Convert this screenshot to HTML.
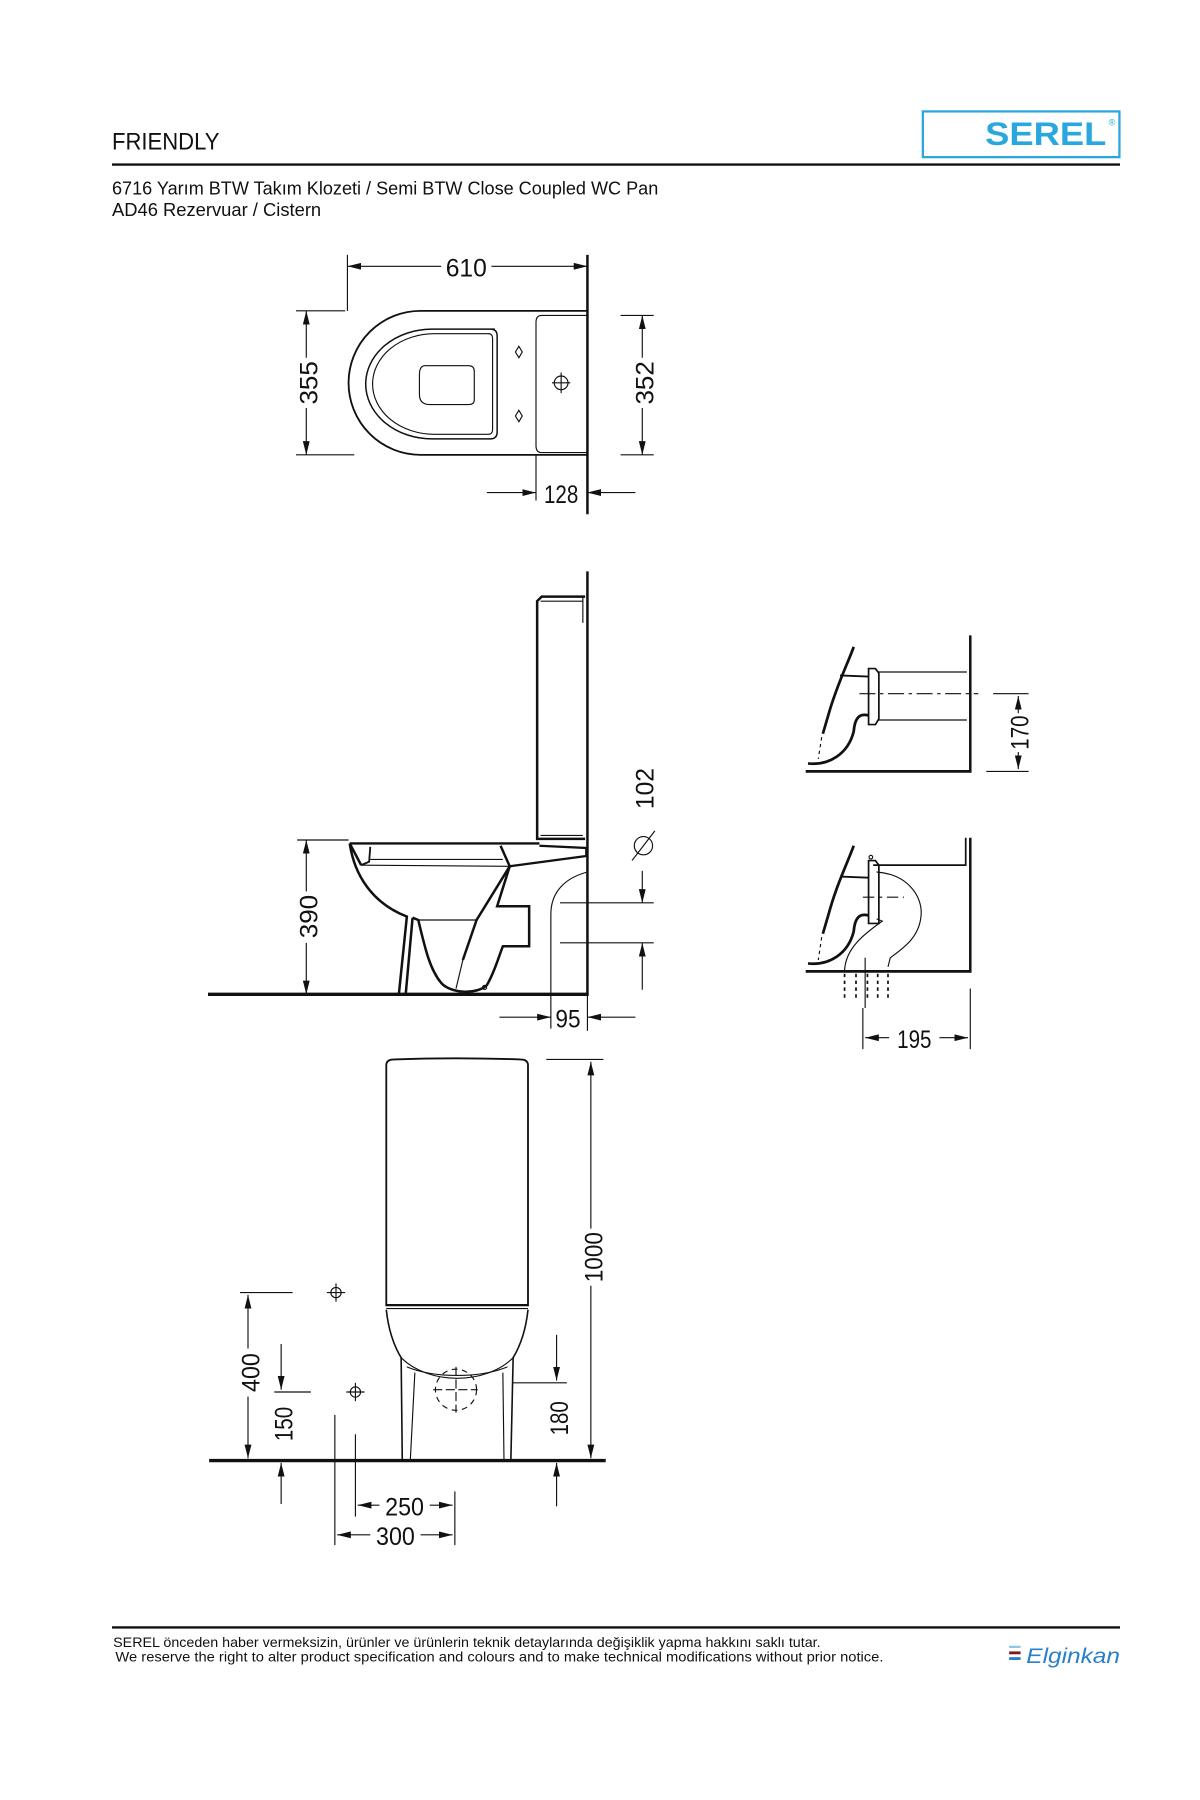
<!DOCTYPE html>
<html><head><meta charset="utf-8"><style>
html,body{margin:0;padding:0;background:#fff;}
svg{display:block;}
.t{font-family:"Liberation Sans",sans-serif;}
.d{font-family:"Liberation Sans",sans-serif;font-size:22px;fill:#111;}
</style></head><body>
<svg width="1200" height="1800" viewBox="0 0 1050 1575" xmlns="http://www.w3.org/2000/svg">
<defs>
<marker id="a" viewBox="0 0 12 6" refX="12" refY="3" markerWidth="12" markerHeight="6" markerUnits="userSpaceOnUse" orient="auto"><path d="M0,0 L12,3 L0,6 z" fill="#111"/></marker>
</defs>
<g fill="none" stroke="#111" stroke-width="1">
<!-- header -->
<text x="98" y="131" class="t" style="font-size:21px" fill="#111" stroke="none" textLength="94" lengthAdjust="spacingAndGlyphs">FRIENDLY</text>
<rect x="807.5" y="97.5" width="172" height="40" stroke="#2aa8de" stroke-width="2"/>
<text x="862" y="127" fill="#2aa8de" stroke="none" style="font-family:'Liberation Sans',sans-serif;font-weight:bold;font-size:28px" textLength="106" lengthAdjust="spacingAndGlyphs">SEREL</text>
<text x="970" y="110" fill="#2aa8de" stroke="none" style="font-family:'Liberation Sans',sans-serif;font-size:8px">®</text>
<line x1="98" y1="144" x2="980" y2="144" stroke-width="2"/>
<text x="98" y="170" class="t" style="font-size:16px" fill="#111" stroke="none" textLength="478" lengthAdjust="spacingAndGlyphs">6716 Yarım BTW Takım Klozeti / Semi BTW Close Coupled WC Pan</text>
<text x="98" y="189" class="t" style="font-size:16px" fill="#111" stroke="none" textLength="183" lengthAdjust="spacingAndGlyphs">AD46 Rezervuar / Cistern</text>

<!-- TOP VIEW -->
<line x1="514" y1="223" x2="514" y2="450" stroke-width="2.2"/>
<line x1="304" y1="223" x2="304" y2="272"/>
<line x1="386" y1="233" x2="304" y2="233" marker-end="url(#a)"/>
<line x1="430" y1="233" x2="514" y2="233" marker-end="url(#a)"/>
<text x="408" y="242" text-anchor="middle" class="d" stroke="none" textLength="36" lengthAdjust="spacingAndGlyphs">610</text>
<path d="M514,272 H368 A63,63 0 0 0 368,398 H514" stroke-width="1.6"/>
<path d="M433,288 H378 A58,48 0 0 0 378,384 H429 Q435,384 435,378 V294 Q435,288 429,288 Z" stroke-width="1.3"/>
<path d="M429,292 H380 A54,44 0 0 0 380,380 H427 Q431,380 431,376 V296 Q431,292 427,292 Z" stroke-width="1"/>
<path d="M372,320 H410 Q415,320 415,325 V350 Q415,354 410,354 H376 Q367,354 367,345 V328 Q367,320 372,320 Z"/>
<path d="M514,276 H474 Q469,276 469,282 V390 Q469,396 474,396 H514"/>
<circle cx="491" cy="335" r="6"/><line x1="491" y1="326" x2="491" y2="344"/><line x1="483" y1="335" x2="499" y2="335"/>
<path d="M454,303 L457,308 L454,313 L451,308 Z"/><path d="M454,359 L457,364 L454,369 L451,364 Z"/>
<line x1="259" y1="272" x2="302" y2="272"/><line x1="259" y1="398" x2="310" y2="398"/>
<line x1="268" y1="313" x2="268" y2="272" marker-end="url(#a)"/>
<line x1="268" y1="357" x2="268" y2="398" marker-end="url(#a)"/>
<text transform="translate(278,335) rotate(-90)" text-anchor="middle" class="d" stroke="none" textLength="38" lengthAdjust="spacingAndGlyphs">355</text>
<line x1="543" y1="276" x2="572" y2="276"/><line x1="543" y1="398" x2="572" y2="398"/>
<line x1="562" y1="313" x2="562" y2="276" marker-end="url(#a)"/>
<line x1="562" y1="357" x2="562" y2="398" marker-end="url(#a)"/>
<text transform="translate(572,335) rotate(-90)" text-anchor="middle" class="d" stroke="none" textLength="38" lengthAdjust="spacingAndGlyphs">352</text>
<line x1="469" y1="398" x2="469" y2="438"/>
<line x1="426" y1="431" x2="469" y2="431" marker-end="url(#a)"/>
<line x1="556" y1="431" x2="514" y2="431" marker-end="url(#a)"/>
<text x="491" y="440" text-anchor="middle" class="d" stroke="none" textLength="30" lengthAdjust="spacingAndGlyphs">128</text>

<!-- SIDE VIEW -->
<line x1="514" y1="500" x2="514" y2="871" stroke-width="2.2"/>
<line x1="182" y1="870" x2="515" y2="870" stroke-width="3"/>
<path d="M512,522 H474 L470,526 V734 H512" stroke-width="2.2"/>
<line x1="473" y1="526" x2="510" y2="526"/>
<line x1="510" y1="522" x2="510" y2="545"/>
<line x1="473" y1="731" x2="510" y2="731"/>
<path d="M306,738 H472" stroke-width="2"/>
<path d="M306,738 L316,757 M306,738 C310,765 325,790 356,802 L349,870 M355,870 L361,803" stroke-width="2.2"/>
<path d="M316,757 L323,754 L324,741" stroke-width="1.6"/>
<path d="M316,757 L446,758" stroke-width="1"/>
<path d="M324,752 L440,752" stroke-width="1"/>
<path d="M361,803 L366,805 C372,830 376,848 386,860 C395,870 418,870 426,862 C433,850 436,838 440,828 H463 V793 H435 L446,758 L438,740" stroke-width="2.2"/>
<path d="M446,758 L513,749 V742 L472,740" stroke-width="2"/>
<path d="M446,758 L417,805 L405,840" stroke-width="2.2"/>
<line x1="405" y1="840" x2="399" y2="865"/>
<line x1="366" y1="805" x2="417" y2="805"/>
<circle cx="424" cy="864" r="1.8"/>
<path d="M514,763 C495,768 482,780 482,800 V900"/>
<!-- 390 -->
<line x1="260" y1="735" x2="305" y2="735"/>
<line x1="268" y1="780" x2="268" y2="735" marker-end="url(#a)"/>
<line x1="268" y1="825" x2="268" y2="870" marker-end="url(#a)"/>
<text transform="translate(278,802) rotate(-90)" text-anchor="middle" class="d" stroke="none" textLength="38" lengthAdjust="spacingAndGlyphs">390</text>
<!-- 102 -->
<line x1="490" y1="790" x2="572" y2="790"/><line x1="490" y1="825" x2="572" y2="825"/>
<line x1="562" y1="762" x2="562" y2="790" marker-end="url(#a)"/>
<line x1="562" y1="866" x2="562" y2="825" marker-end="url(#a)"/>
<text transform="translate(572,690) rotate(-90)" text-anchor="middle" class="d" stroke="none" textLength="36" lengthAdjust="spacingAndGlyphs">102</text>
<circle cx="563" cy="740" r="8"/><line x1="553" y1="753" x2="573" y2="727"/>
<!-- 95 -->
<line x1="437" y1="890" x2="482" y2="890" marker-end="url(#a)"/>
<line x1="556" y1="890" x2="514" y2="890" marker-end="url(#a)"/>
<line x1="514" y1="870" x2="514" y2="902"/>
<text x="497" y="899" text-anchor="middle" class="d" stroke="none" textLength="22" lengthAdjust="spacingAndGlyphs">95</text>

<!-- DETAIL TOP -->
<line x1="849" y1="556" x2="849" y2="676" stroke-width="2.2"/>
<line x1="705" y1="675" x2="850" y2="675" stroke-width="2.4"/>
<line x1="768" y1="588" x2="846" y2="588"/><line x1="768" y1="630" x2="846" y2="630"/>
<path d="M760,585 H766 L769,589 V629 L766,634 H760 Z" stroke-width="1.5"/>
<line x1="752" y1="607" x2="856" y2="607" stroke-dasharray="14,4,3,4"/>
<path d="M747,566 C742,580 732,600 725,625 L720,642" stroke-width="2.4"/>
<path d="M719,645 L716,664" stroke-dasharray="3,3"/>
<path d="M707,668 C725,670 742,660 747,640 C748,628 752,624 760,626" stroke-width="2.4"/>
<line x1="735" y1="591" x2="760" y2="592" stroke-width="1.6"/>
<line x1="869" y1="607" x2="900" y2="607"/><line x1="863" y1="675" x2="900" y2="675"/>
<line x1="891" y1="624" x2="891" y2="609" marker-end="url(#a)"/>
<line x1="891" y1="658" x2="891" y2="673" marker-end="url(#a)"/>
<text transform="translate(900,641) rotate(-90)" text-anchor="middle" class="d" stroke="none" textLength="30" lengthAdjust="spacingAndGlyphs">170</text>

<!-- DETAIL BOTTOM -->
<line x1="849" y1="733" x2="849" y2="851" stroke-width="2.2"/>
<line x1="705" y1="850" x2="850" y2="850" stroke-width="2.4"/>
<path d="M845,733 V757 H764" stroke-width="1.5"/>
<path d="M767,763 C795,765 807,785 806,800 C805,820 790,830 779,838 L777,846"/>
<path d="M739,849 C740,830 755,818 772,806 L767,804" />
<path d="M760,753 H766 L769,757 V808 H760 Z" stroke-width="1.5"/>
<circle cx="762" cy="750" r="1.6"/>
<line x1="755" y1="785" x2="791" y2="785" stroke-dasharray="10,4,3,4"/>
<path d="M747,740 C742,754 732,774 725,800 L720,817" stroke-width="2.4"/>
<path d="M719,820 L716,840" stroke-dasharray="3,3"/>
<path d="M707,843 C725,845 742,835 747,815 C748,803 752,799 760,801" stroke-width="2.4"/>
<line x1="735" y1="767" x2="760" y2="768" stroke-width="1.6"/>
<g stroke-dasharray="3,3" stroke-width="1.5">
<line x1="739" y1="852" x2="739" y2="876"/><line x1="749" y1="852" x2="749" y2="876"/><line x1="759" y1="852" x2="759" y2="876"/><line x1="768" y1="852" x2="768" y2="876"/><line x1="777" y1="852" x2="777" y2="876"/>
</g>
<line x1="757" y1="838" x2="757" y2="882"/>
<line x1="755" y1="882" x2="755" y2="918"/><line x1="849" y1="865" x2="849" y2="918"/>
<line x1="778" y1="908" x2="757" y2="908" marker-end="url(#a)"/>
<line x1="822" y1="908" x2="847" y2="908" marker-end="url(#a)"/>
<text x="800" y="917" text-anchor="middle" class="d" stroke="none" textLength="30" lengthAdjust="spacingAndGlyphs">195</text>

<!-- FRONT VIEW -->
<path d="M338,1143 V932 Q338,927 345,927 Q398,925 455,927 Q462,927 462,932 V1143" stroke-width="1.6"/>
<line x1="338" y1="1142" x2="462" y2="1142" stroke-width="2"/>
<line x1="338" y1="1145" x2="462" y2="1145"/>
<path d="M338,1146 C340,1165 345,1178 351,1188 L352,1278" stroke-width="1.4"/>
<path d="M462,1146 C460,1165 455,1178 449,1188 L447,1278" stroke-width="1.4"/>
<path d="M351,1188 C375,1212 425,1212 449,1188"/>
<path d="M356,1196 C380,1206 420,1206 444,1196"/>
<path d="M359,1278 L363,1201 M440,1201 L441,1278"/>
<circle cx="399" cy="1216" r="18" stroke-dasharray="5,4"/>
<line x1="399" y1="1196" x2="399" y2="1236" stroke-dasharray="8,3"/><line x1="379" y1="1216" x2="418" y2="1216" stroke-dasharray="8,3"/>
<line x1="183" y1="1278" x2="530" y2="1278" stroke-width="3"/>
<!-- 1000 -->
<line x1="478" y1="927" x2="528" y2="927"/>
<line x1="517" y1="1075" x2="517" y2="929" marker-end="url(#a)"/>
<line x1="517" y1="1125" x2="517" y2="1276" marker-end="url(#a)"/>
<text transform="translate(527,1100) rotate(-90)" text-anchor="middle" class="d" stroke="none" textLength="44" lengthAdjust="spacingAndGlyphs">1000</text>
<!-- 400 -->
<line x1="210" y1="1131" x2="256" y2="1131"/>
<line x1="217" y1="1180" x2="217" y2="1133" marker-end="url(#a)"/>
<line x1="217" y1="1222" x2="217" y2="1276" marker-end="url(#a)"/>
<text transform="translate(227,1201) rotate(-90)" text-anchor="middle" class="d" stroke="none" textLength="34" lengthAdjust="spacingAndGlyphs">400</text>
<circle cx="294" cy="1131" r="4.5"/><line x1="294" y1="1123" x2="294" y2="1139"/><line x1="286" y1="1131" x2="302" y2="1131"/>
<circle cx="311" cy="1218" r="4.5"/><line x1="311" y1="1210" x2="311" y2="1226"/><line x1="303" y1="1218" x2="319" y2="1218"/>
<!-- 150 -->
<line x1="240" y1="1218" x2="272" y2="1218"/>
<line x1="246" y1="1176" x2="246" y2="1216" marker-end="url(#a)"/>
<line x1="246" y1="1316" x2="246" y2="1280" marker-end="url(#a)"/>
<text transform="translate(256,1246) rotate(-90)" text-anchor="middle" class="d" stroke="none" textLength="30" lengthAdjust="spacingAndGlyphs">150</text>
<!-- 180 -->
<line x1="448" y1="1210" x2="496" y2="1210"/>
<line x1="487" y1="1168" x2="487" y2="1208" marker-end="url(#a)"/>
<line x1="487" y1="1318" x2="487" y2="1280" marker-end="url(#a)"/>
<text transform="translate(497,1241) rotate(-90)" text-anchor="middle" class="d" stroke="none" textLength="30" lengthAdjust="spacingAndGlyphs">180</text>
<!-- 250 / 300 -->
<line x1="293" y1="1238" x2="293" y2="1352"/>
<line x1="311" y1="1255" x2="311" y2="1327"/>
<line x1="398" y1="1305" x2="398" y2="1352"/>
<line x1="332" y1="1317" x2="313" y2="1317" marker-end="url(#a)"/>
<line x1="376" y1="1317" x2="396" y2="1317" marker-end="url(#a)"/>
<text x="354" y="1326" text-anchor="middle" class="d" stroke="none" textLength="34" lengthAdjust="spacingAndGlyphs">250</text>
<line x1="324" y1="1343" x2="295" y2="1343" marker-end="url(#a)"/>
<line x1="368" y1="1343" x2="396" y2="1343" marker-end="url(#a)"/>
<text x="346" y="1352" text-anchor="middle" class="d" stroke="none" textLength="34" lengthAdjust="spacingAndGlyphs">300</text>

<!-- FOOTER -->
<line x1="98" y1="1424" x2="980" y2="1424" stroke-width="2"/>
<text x="99" y="1441" class="t" style="font-size:12.5px" fill="#111" stroke="none" textLength="619" lengthAdjust="spacingAndGlyphs">SEREL önceden haber vermeksizin, ürünler ve ürünlerin teknik detaylarında değişiklik yapma hakkını saklı tutar.</text>
<text x="101" y="1454" class="t" style="font-size:12.5px" fill="#111" stroke="none" textLength="672" lengthAdjust="spacingAndGlyphs">We reserve the right to alter product specification and colours and to make technical modifications without prior notice.</text>
<rect x="883" y="1440" width="10" height="2" fill="#8cc8ea" stroke="none"/>
<rect x="883" y="1445" width="10" height="2.5" fill="#7a1a1a" stroke="none"/>
<rect x="883" y="1450" width="10" height="2.5" fill="#2a7fc9" stroke="none"/>
<text x="898" y="1455" fill="#2a7fc9" stroke="none" style="font-family:'Liberation Sans',sans-serif;font-style:italic;font-size:19px" textLength="82" lengthAdjust="spacingAndGlyphs">Elginkan</text>
</g>
</svg>
</body></html>
